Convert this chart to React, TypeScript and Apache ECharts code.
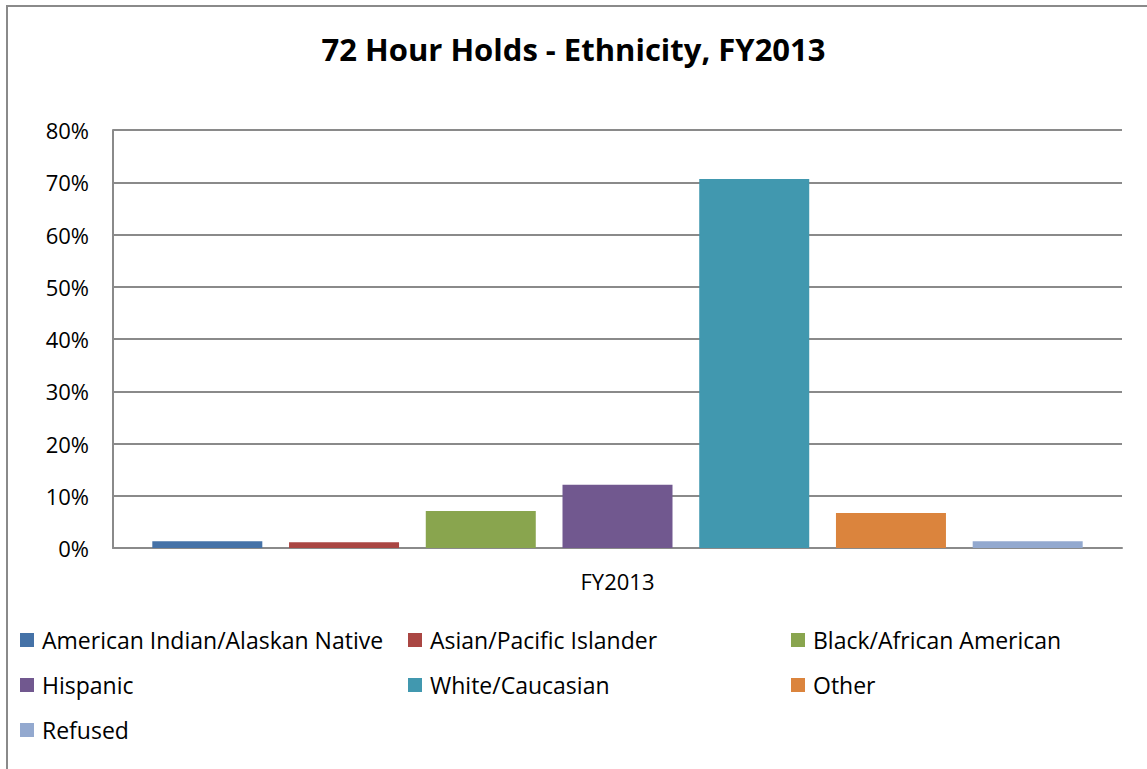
import React, { useEffect, useRef } from "react";
import * as echarts from "echarts";

const categories = ["FY2013"];
const seriesNames = [
  "American Indian/Alaskan Native",
  "Asian/Pacific Islander",
  "Black/African American",
  "Hispanic",
  "White/Caucasian",
  "Other",
  "Refused",
];
const seriesValues = [1.3, 1.1, 7.1, 12.1, 70.6, 6.7, 1.3];
const seriesColors = ["#4572A7", "#AA4643", "#89A54E", "#71588F", "#4198AF", "#DB843D", "#93A9CF"];
const yTicks = { min: 0, max: 80, interval: 10 };

const legendColumns = [
  [0, 3, 6],
  [1, 4],
  [2, 5],
];
const legendLefts = [20, 408, 791];

export default function App() {
  const ref = useRef<HTMLDivElement>(null);
  useEffect(() => {
    if (!ref.current) return;
    const chart = echarts.init(ref.current, null, { renderer: "svg" });
    const font = "'Open Sans', sans-serif";
    chart.setOption({
      animation: false,
      backgroundColor: "#ffffff",
      title: {
        text: "72 Hour Holds - Ethnicity, FY2013",
        left: "center",
        top: 28,
        textStyle: { fontFamily: font, fontSize: 31, fontWeight: "bold", color: "#000" },
      },
      graphic: [
        {
          type: "rect",
          shape: { x: 7, y: 6, width: 2000, height: 2000 },
          style: { fill: "none", stroke: "#8a8a8a", lineWidth: 2 },
          silent: true,
        },
      ],
      legend: legendColumns.map((col, i) => ({
        orient: "vertical",
        left: legendLefts[i],
        top: 627,
        padding: 0,
        itemWidth: 14,
        itemHeight: 14,
        itemGap: 19,
        icon: "rect",
        data: col.map((k) => seriesNames[k]),
        textStyle: { fontFamily: font, fontSize: 23, color: "#000", lineHeight: 26, padding: [0, 0, 0, 3] },
      })),
      grid: { left: 113, right: 25, top: 130, bottom: 221 },
      xAxis: {
        type: "category",
        data: categories,
        axisLine: { lineStyle: { color: "#8a8a8a", width: 2 } },
        axisTick: { show: false },
        axisLabel: { fontFamily: font, fontSize: 22, color: "#000", margin: 22 },
      },
      yAxis: {
        type: "value",
        min: yTicks.min,
        max: yTicks.max,
        interval: yTicks.interval,
        axisLine: { show: true, lineStyle: { color: "#8a8a8a", width: 2 } },
        axisTick: { show: false },
        splitLine: { lineStyle: { color: "#8a8a8a", width: 2 } },
        axisLabel: { fontFamily: font, fontSize: 22, color: "#000", margin: 24, formatter: "{value}%" },
      },
      series: seriesNames.map((name, i) => ({
        name,
        type: "bar",
        data: [seriesValues[i]],
        itemStyle: { color: seriesColors[i] },
        barWidth: 110,
        barGap: "24.3%",
      })),
    });
    return () => chart.dispose();
  }, []);
  return <div ref={ref} style={{ position: "fixed", left: 0, top: 0, width: 1147, height: 769 }} />;
}
